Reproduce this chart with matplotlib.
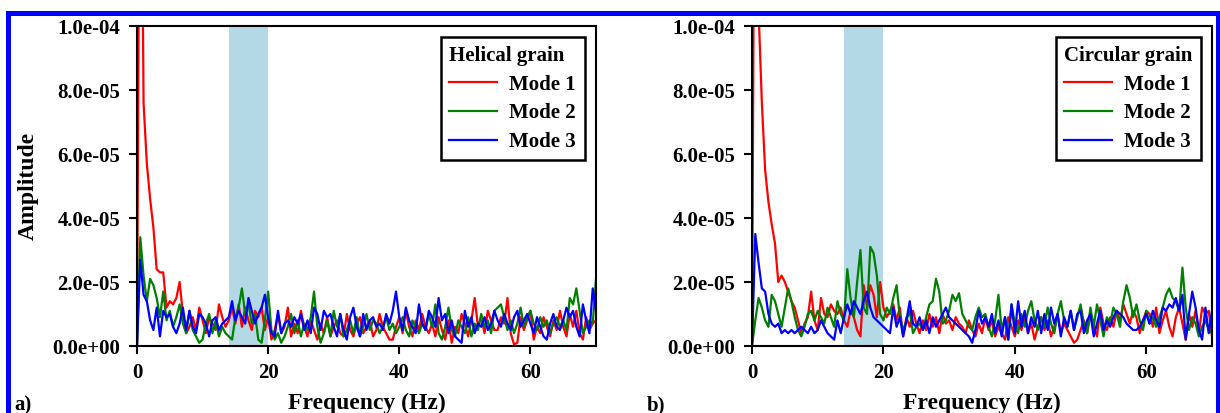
import numpy as np
import matplotlib.pyplot as plt
from matplotlib.lines import Line2D
from matplotlib.ticker import FormatStrFormatter

plt.rcParams['font.family'] = 'Liberation Serif'
plt.rcParams['font.weight'] = 'bold'
plt.rcParams['axes.labelweight'] = 'bold'

# spectra sampled every 0.5 Hz from 0 to 70 Hz, amplitudes in units of 1e-6
df = 0.5
amp_unit = 1e-6

helical_m1 = [
    0, 210, 76, 57, 46, 37, 24, 23, 23, 12, 14, 13, 15, 20, 10, 4, 6, 9, 5, 12,
    8, 4, 9, 7, 5, 13, 9, 6, 8, 12, 7, 13, 6, 12, 8, 5, 11, 9, 12, 5,
    9, 2, 5, 10, 4, 6, 12, 3, 7, 4, 11, 6, 3, 8, 5, 2, 7, 4, 9, 3,
    6, 8, 4, 3, 10, 5, 3, 7, 9, 4, 6, 8, 3, 5, 10, 6, 4, 2, 2, 6,
    9, 4, 11, 6, 3, 8, 5, 10, 6, 4, 7, 3, 9, 5, 2, 8, 1, 6, 4, 10,
    7, 3, 8, 15, 6, 9, 4, 11, 8, 5, 5, 9, 7, 15, 4, 0.5, 1, 9, 5, 8,
    11, 2, 6, 4, 9, 6, 3, 8, 5, 11, 6, 3, 10, 6, 11, 4, 2, 9, 5, 7,
    8]
helical_m2 = [
    0, 34, 22, 14, 21, 19, 15, 9, 17, 8, 11, 6, 9, 13, 7, 4, 11, 5, 3, 1,
    2, 7, 10, 4, 8, 3, 6, 4, 3, 2, 9, 12, 18, 10, 13, 7, 10, 2, 1, 8,
    17, 5, 2, 4, 1, 3, 6, 10, 4, 8, 3, 7, 5, 9, 17, 6, 1, 4, 8, 3,
    11, 6, 10, 3, 5, 8, 4, 9, 3, 6, 10, 5, 8, 7, 4, 6, 9, 5, 7, 4,
    6, 9, 5, 3, 8, 6, 4, 7, 5, 10, 6, 13, 4, 2, 6, 12, 5, 3, 8, 6,
    4, 9, 3, 7, 5, 10, 6, 8, 4, 11, 12, 13, 9, 5, 8, 4, 7, 12, 6, 9,
    11, 7, 5, 9, 6, 8, 4, 7, 9, 6, 8, 5, 15, 13, 18, 11, 4, 6, 8, 7,
    21]
helical_m3 = [
    0, 27, 16, 14, 8, 5, 12, 3, 11, 9, 10, 6, 4, 7, 12, 5, 11, 6, 4, 10,
    9, 7, 3, 8, 9, 5, 7, 8, 9, 14, 8, 11, 9, 7, 15, 11, 7, 10, 12, 16,
    9, 4, 3, 11, 4, 7, 8, 6, 9, 7, 10, 5, 8, 4, 12, 10, 5, 11, 9, 10,
    6, 3, 10, 5, 2, 9, 12, 6, 3, 10, 5, 8, 9, 6, 7, 5, 10, 7, 11, 17,
    9, 5, 12, 8, 6, 4, 13, 7, 5, 11, 9, 6, 15, 8, 10, 4, 8, 3, 2, 1,
    11, 6, 9, 4, 7, 6, 9, 5, 7, 11, 8, 6, 10, 7, 5, 9, 11, 6, 8, 10,
    7, 4, 9, 6, 3, 2, 7, 10, 6, 5, 8, 12, 9, 11, 6, 3, 13, 8, 4, 18,
    11]

circular_m1 = [
    0, 220, 105, 76, 55, 45, 38, 32, 20, 22, 20, 17, 14, 12, 8, 4, 7, 9, 17, 8,
    5, 15, 10, 9, 13, 11, 10, 12, 8, 6, 11, 9, 5, 3, 19, 12, 19, 16, 9, 20,
    12, 9, 11, 13, 8, 12, 3, 9, 6, 11, 7, 4, 8, 5, 10, 6, 9, 4, 10, 7,
    8, 5, 9, 7, 6, 4, 8, 5, 3, 7, 4, 9, 5, 8, 3, 6, 4, 2, 9, 6,
    3, 8, 5, 9, 4, 7, 2, 6, 9, 5, 8, 3, 6, 10, 4, 7, 5, 3, 1, 2,
    5, 8, 4, 10, 6, 3, 12, 7, 5, 9, 6, 11, 8, 13, 10, 7, 11, 9, 4, 8,
    11, 10, 6, 12, 4, 8, 11, 6, 3, 9, 12, 7, 2, 10, 6, 11, 4, 12, 10, 11,
    3]
circular_m2 = [
    0, 8, 15, 12, 8, 6, 16, 14, 10, 6, 12, 18, 14, 9, 5, 3, 6, 10, 11, 8,
    11, 9, 7, 12, 9, 6, 14, 10, 8, 24, 15, 9, 20, 30, 12, 10, 31, 29, 22, 10,
    8, 12, 10, 15, 19, 9, 5, 8, 11, 4, 6, 7, 5, 9, 13, 14, 21, 17, 7, 8,
    11, 16, 14, 16.5, 10, 8, 6, 5, 9, 12, 9, 10, 6, 3, 8, 16, 5, 9, 2, 13,
    7, 4, 10, 6, 11, 14, 8, 5, 9, 6, 12, 7, 4, 10, 14, 8, 6, 11, 5, 9,
    13, 7, 4, 12, 6, 13, 8, 3, 9, 7, 12, 10, 6, 14, 19, 15, 9, 13, 8, 5,
    11, 7, 9, 6, 9, 12, 16, 18, 15, 14, 11, 24.5, 12, 5, 9, 7, 3, 6, 8, 5,
    4]
circular_m3 = [
    0, 35, 26, 18, 17, 10, 7, 6, 7, 4, 5, 4, 5, 4, 5, 6, 5, 4, 6, 4,
    5, 8, 6, 4, 3, 2, 8, 4, 9, 13, 10, 14, 12, 10, 14, 17, 12, 9, 8, 7,
    6, 5, 4, 12, 6, 9, 3, 8, 14, 7, 6, 9, 5, 8, 4, 9, 6, 8, 10, 12,
    9, 8, 7, 6, 5, 4, 3, 1, 5, 11, 7, 9, 6, 10, 4, 8, 3, 9, 2, 13,
    4, 14, 6, 11, 4, 9, 6, 11, 4, 10, 5, 12, 7, 10, 3, 9, 6, 11, 5, 10,
    11, 4, 8, 10, 3, 7, 11, 5, 8, 6, 9, 11, 10, 9, 7, 6, 5, 5, 6, 8,
    10, 7, 11, 8, 6, 12, 11, 13, 12, 15, 11, 16, 2, 10, 17, 12, 5, 2, 12, 4,
    11]

mode_labels = ['Mode 1', 'Mode 2', 'Mode 3']
mode_colors = ['red', 'green', 'blue']
band = (14, 20)

panels = [
    ('Helical grain', 'a)', [helical_m1, helical_m2, helical_m3]),
    ('Circular grain', 'b)', [circular_m1, circular_m2, circular_m3]),
]

W, H = 1220, 413
fig = plt.figure(figsize=(W / 100, H / 100), dpi=100)
axes_px = [(137, 596), (752, 1212)]
letter_x = [14, 647]

for (title, letter, series), (x0, x1), lx in zip(panels, axes_px, letter_x):
    ax = fig.add_axes([x0 / W, (H - 346) / H, (x1 - x0) / W, 320 / H])
    ax.axvspan(band[0], band[1], color='#b3d8e6', lw=0, zorder=0)
    for vals, lab, col in zip(series, mode_labels, mode_colors):
        freq = np.arange(len(vals)) * df
        ax.plot(freq, np.array(vals) * amp_unit, color=col, lw=1.6, label=lab)
    ax.set_xlim(0, 70)
    ax.set_ylim(0, 1e-4)
    ax.set_xticks([0, 20, 40, 60])
    ax.set_yticks(np.arange(0, 1.01e-4, 2e-5))
    ax.yaxis.set_major_formatter(FormatStrFormatter('%.1e'))
    ax.tick_params(direction='out', length=6, width=1.5, labelsize=15, pad=6,
                   top=False, right=False)
    for sp in ax.spines.values():
        sp.set_linewidth(1.5)
    ax.set_xlabel('Frequency (Hz)', fontsize=17, fontweight='bold', labelpad=7)
    leg = ax.legend(title=title, loc='upper right', fontsize=15, title_fontsize=15,
                    fancybox=False, edgecolor='black', framealpha=1,
                    borderaxespad=0.55, handlelength=2.3, labelspacing=0.42,
                    handletextpad=0.6, borderpad=0.4, alignment='left')
    leg.get_frame().set_linewidth(1.8)
    plt.setp(leg.get_title(), fontweight='bold')
    for t in leg.get_texts():
        t.set_fontweight('bold')
    fig.text(lx / W, 1 - 410 / H, letter, fontsize=15, fontweight='bold',
             ha='left', va='baseline')
    if letter == 'a)':
        ax.set_ylabel('Amplitude', fontsize=17, fontweight='bold', labelpad=10)

# frame around the whole figure (open at the bottom)
border = dict(color='#0000ff', lw=3.6, solid_capstyle='projecting')
fig.add_artist(Line2D([8 / W, 1217.5 / W], [1 - 12.5 / H] * 2, **border))
fig.add_artist(Line2D([8 / W] * 2, [0, 1 - 12.5 / H], **border))
fig.add_artist(Line2D([1217.5 / W] * 2, [0, 1 - 12.5 / H], **border))

fig.savefig('out.png', dpi=100)
